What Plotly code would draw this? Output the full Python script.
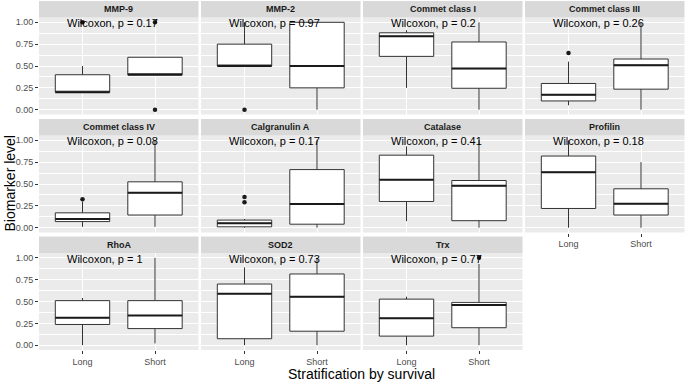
import plotly.graph_objects as go

groups = ["Long", "Short"]
panels = ["MMP-9", "MMP-2", "Commet class I", "Commet class III",
          "Commet class IV", "Calgranulin A", "Catalase", "Profilin",
          "RhoA", "SOD2", "Trx"]
p_values = ["0.17", "0.97", "0.2", "0.26", "0.08", "0.17", "0.41", "0.18",
            "1", "0.73", "0.77"]

# [Long, Short] per panel
lower = [[0.20, 0.40], [0.50, 0.00], [0.25, 0.00], [0.05, 0.00],
         [0.01, 0.01], [0.00, 0.00], [0.075, 0.00], [0.00, 0.00],
         [0.00, 0.02], [0.00, 0.00], [0.00, 0.00]]
q1 = [[0.20, 0.40], [0.50, 0.25], [0.61, 0.245], [0.10, 0.235],
      [0.07, 0.145], [0.01, 0.04], [0.30, 0.08], [0.22, 0.145],
      [0.237, 0.19], [0.074, 0.16], [0.104, 0.20]]
median = [[0.20, 0.40], [0.50, 0.50], [0.84, 0.47], [0.17, 0.51],
          [0.10, 0.40], [0.05, 0.27], [0.55, 0.48], [0.635, 0.275],
          [0.315, 0.34], [0.59, 0.555], [0.307, 0.46]]
q3 = [[0.40, 0.60], [0.75, 1.00], [0.88, 0.775], [0.30, 0.58],
      [0.17, 0.525], [0.087, 0.665], [0.83, 0.54], [0.82, 0.445],
      [0.51, 0.51], [0.70, 0.815], [0.527, 0.49]]
upper = [[0.50, 0.60], [1.00, 1.00], [0.91, 1.00], [0.55, 1.00],
         [0.30, 1.00], [0.10, 1.00], [0.93, 1.00], [1.00, 0.75],
         [0.54, 1.00], [0.89, 1.00], [0.555, 0.93]]
outliers = [[[1.0], [1.0, 0.0]], [[0.0], []], [[], []], [[0.65], []],
            [[0.325], []], [[0.29, 0.35], []], [[], []], [[], []],
            [[], []], [[], []], [[], [1.0]]]

y_ticks = [0, 0.25, 0.5, 0.75, 1.0]
y_tick_labels = ["0.00", "0.25", "0.50", "0.75", "1.00"]

W, H = 685, 382
BOX_W = 0.75
col_left = [39, 201, 363, 525]
panel_w = 159.5
row_top = [17.5, 135.5, 253.0]
panel_h = 97
strip_h = 16.5

fig = go.Figure()
layout = dict(
    width=W, height=H, margin=dict(l=0, r=0, t=0, b=0),
    paper_bgcolor="white", plot_bgcolor="#ebebeb", showlegend=False,
    font=dict(family="Liberation Sans, Arial, sans-serif"),
)
shapes = []
annotations = []

pos = list(range(len(groups)))
for k, name in enumerate(panels):
    r, c = divmod(k, 4)
    xa = "x" if k == 0 else f"x{k+1}"
    ya = "y" if k == 0 else f"y{k+1}"
    x0, x1 = col_left[c], col_left[c] + panel_w
    y0, y1 = row_top[r], row_top[r] + panel_h
    show_x = (r == 2) or (k == 7)
    show_y = (c == 0)
    layout["xaxis" if k == 0 else f"xaxis{k+1}"] = dict(
        domain=[x0 / W, x1 / W], anchor=ya, range=[-0.6, 1.6],
        tickvals=pos, ticktext=groups if show_x else ["", ""],
        showgrid=True, gridcolor="white", gridwidth=1.1, zeroline=False,
        ticks="outside" if show_x else "", ticklen=3, tickcolor="#333333",
        tickfont=dict(size=9, color="#4d4d4d"), showline=False, fixedrange=True,
    )
    layout["yaxis" if k == 0 else f"yaxis{k+1}"] = dict(
        domain=[1 - y1 / H, 1 - y0 / H], anchor=xa, range=[-0.055, 1.055],
        tickvals=y_ticks, ticktext=y_tick_labels if show_y else [""] * 5,
        showgrid=True, gridcolor="white", gridwidth=1.1, zeroline=False,
        ticks="outside" if show_y else "", ticklen=3, tickcolor="#333333",
        tickfont=dict(size=9, color="#4d4d4d"),
        minor=dict(showgrid=True, gridcolor="white", gridwidth=0.5,
                   tick0=0.125, dtick=0.25),
        showline=False, fixedrange=True,
    )
    # strip
    sy0, sy1 = y0 - strip_h, y0
    shapes.append(dict(type="rect", xref="paper", yref="paper",
                       x0=x0 / W, x1=x1 / W, y0=1 - sy1 / H, y1=1 - sy0 / H,
                       fillcolor="#d9d9d9", line=dict(width=0), layer="below"))
    annotations.append(dict(xref="paper", yref="paper",
                            x=(x0 + x1) / 2 / W, y=1 - (sy0 + sy1) / 2 / H,
                            text=f"<b>{name}</b>", showarrow=False,
                            xanchor="center", yanchor="middle",
                            font=dict(size=9, color="#1a1a1a")))
    # box
    fig.add_trace(go.Box(
        x=pos, q1=q1[k], median=median[k], q3=q3[k],
        lowerfence=lower[k], upperfence=upper[k],
        width=BOX_W, whiskerwidth=0, boxpoints=False,
        fillcolor="white", line=dict(color="#333333", width=1),
        xaxis=xa, yaxis=ya, hoverinfo="skip",
    ))
    # thick medians
    mx, my = [], []
    for i in pos:
        mx += [i - BOX_W / 2, i + BOX_W / 2, None]
        my += [median[k][i], median[k][i], None]
    fig.add_trace(go.Scatter(x=mx, y=my, mode="lines",
                             line=dict(color="#1a1a1a", width=2),
                             xaxis=xa, yaxis=ya, hoverinfo="skip"))
    # outliers
    ox, oy = [], []
    for i in pos:
        for v in outliers[k][i]:
            ox.append(i)
            oy.append(v)
    if ox:
        fig.add_trace(go.Scatter(x=ox, y=oy, mode="markers",
                                 marker=dict(color="#1a1a1a", size=4.5),
                                 xaxis=xa, yaxis=ya, hoverinfo="skip"))
    annotations.append(dict(xref=xa, yref=ya, x=-0.245, y=0.99,
                            text=f"Wilcoxon, p = {p_values[k]}",
                            showarrow=False, xanchor="left", yanchor="middle",
                            font=dict(size=11, color="black")))

annotations.append(dict(xref="paper", yref="paper", x=361.5 / W, y=1 - 374 / H,
                        text="Stratification by survival", showarrow=False,
                        xanchor="center", yanchor="middle",
                        font=dict(size=14, color="black")))
annotations.append(dict(xref="paper", yref="paper", x=9 / W, y=1 - 183.5 / H,
                        text="Biomarker level", showarrow=False, textangle=-90,
                        xanchor="center", yanchor="middle",
                        font=dict(size=14, color="black")))

layout["shapes"] = shapes
layout["annotations"] = annotations
fig.update_layout(**layout)
fig.write_html("out.html", config={"displayModeBar": False},
               post_script="document.body.style.margin='0';document.body.style.padding='0';")
